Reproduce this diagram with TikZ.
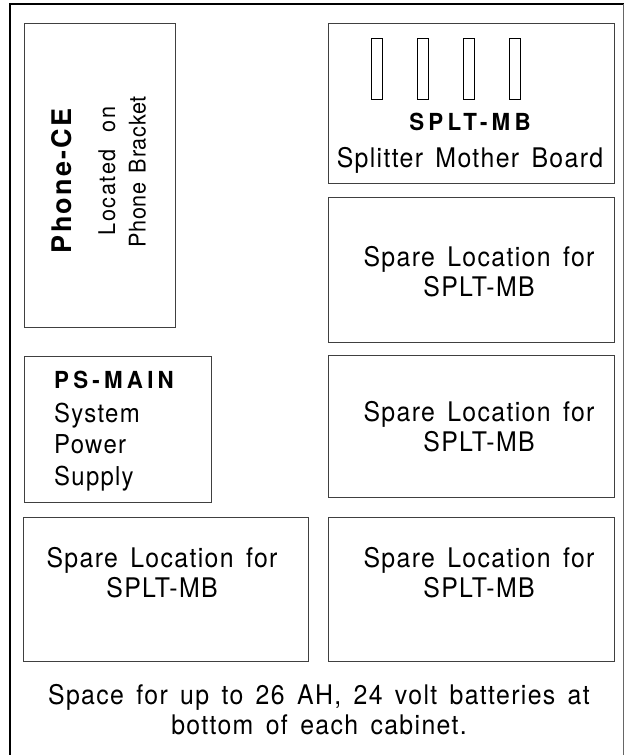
\documentclass[tikz,border=0pt]{standalone}
\usepackage{fontspec}
\setmainfont{TeX Gyre Heros}
\newfontfamily\lspA[LetterSpace=5,FakeStretch=0.92,WordSpace=1.5]{TeX Gyre Heros}
\newfontfamily\lspR[LetterSpace=3,FakeStretch=0.94,WordSpace=1.4]{TeX Gyre Heros}
\newfontfamily\lspL[LetterSpace=7,FakeStretch=0.94,WordSpace=2.2]{TeX Gyre Heros}
\newfontfamily\lspB[LetterSpace=18,FakeStretch=0.95]{TeX Gyre Heros}
\newfontfamily\lspP[LetterSpace=8]{TeX Gyre Heros}
\begin{document}
\begin{tikzpicture}[x=1pt,y=-1pt,
  box/.style={draw=black!75, line width=0.8pt, inner sep=0pt, anchor=north west},
  slotbox/.style={draw=black, line width=1.3pt, inner sep=0pt, anchor=north west, minimum width=11pt, minimum height=61pt},
  lbl/.style={inner sep=0pt, anchor=base, font=\lspA\fontsize{27}{30}\selectfont},
  lblw/.style={inner sep=0pt, anchor=base west, font=\lspA\fontsize{26}{30}\selectfont},
  bold/.style={inner sep=0pt, anchor=base, font=\lspB\bfseries\fontsize{23.5}{26}\selectfont},
  rot/.style={inner sep=0pt, rotate=90, font=\lspR\fontsize{23}{26}\selectfont}
]
\useasboundingbox (0,0) rectangle (626,755);
% outer cabinet outline
\coordinate (fbl) at (10,755);
\coordinate (ftl) at (10,4);
\coordinate (ftr) at (623,4);
\coordinate (fbr) at (623,755);
\draw[line width=2.6pt, line cap=rect] (fbl) -- (ftl) -- (ftr);
\draw[line width=0.7pt, black!60] (ftr) -- (fbr);

% Phone-CE
\node[box, minimum width=151pt, minimum height=304pt] (phone) at (24,23) {};
\node[inner sep=0pt, rotate=90, font=\lspP\bfseries\fontsize{27}{30}\selectfont] (pce) at (62,181) {Phone-CE};
\node[rot, font=\lspL\fontsize{23}{26}\selectfont] (loc) at (107,171) {Located on};
\node[rot] (brk) at (137.5,172) {Phone Bracket};

% SPLT-MB
\node[box, minimum width=286pt, minimum height=160pt] (mb) at (328,23) {};
\node[slotbox] (s1) at (371,38) {};
\node[slotbox] (s2) at (417,38) {};
\node[slotbox] (s3) at (463,38) {};
\node[slotbox] (s4) at (509,38) {};
\node[bold] (mbt) at (470,130) {SPLT-MB};
\node[lbl] (mbs) at (470,167) {Splitter Mother Board};

% Spare right 1
\node[box, minimum width=286pt, minimum height=145pt] (r1) at (328,197) {};
\node[lbl] (r1a) at (479,266) {Spare Location for};
\node[lbl] (r1b) at (479,296) {SPLT-MB};

% Spare right 2
\node[box, minimum width=286pt, minimum height=142pt] (r2) at (328,355) {};
\node[lbl] (r2a) at (479,421) {Spare Location for};
\node[lbl] (r2b) at (479,451) {SPLT-MB};

% PS-MAIN
\node[box, minimum width=187pt, minimum height=146pt] (ps) at (24,356) {};
\node[bold, anchor=base west] (pst) at (54,388) {PS-MAIN};
\node[lblw] (ps1) at (54,422) {System};
\node[lblw] (ps2) at (54,453) {Power};
\node[lblw] (ps3) at (54,485) {Supply};

% Spare bottom left
\node[box, minimum width=285pt, minimum height=144pt] (bl) at (23,517) {};
\node[lbl] (bla) at (162,567) {Spare Location for};
\node[lbl] (blb) at (162,597) {SPLT-MB};

% Spare bottom right
\node[box, minimum width=286pt, minimum height=144pt] (br) at (328,517) {};
\node[lbl] (bra) at (479,567) {Spare Location for};
\node[lbl] (brb) at (479,597) {SPLT-MB};

% caption
\node[lbl] (cap1) at (319,704) {Space for up to 26 AH, 24 volt batteries at};
\node[lbl] (cap2) at (319,734) {bottom of each cabinet.};
\end{tikzpicture}
\end{document}
